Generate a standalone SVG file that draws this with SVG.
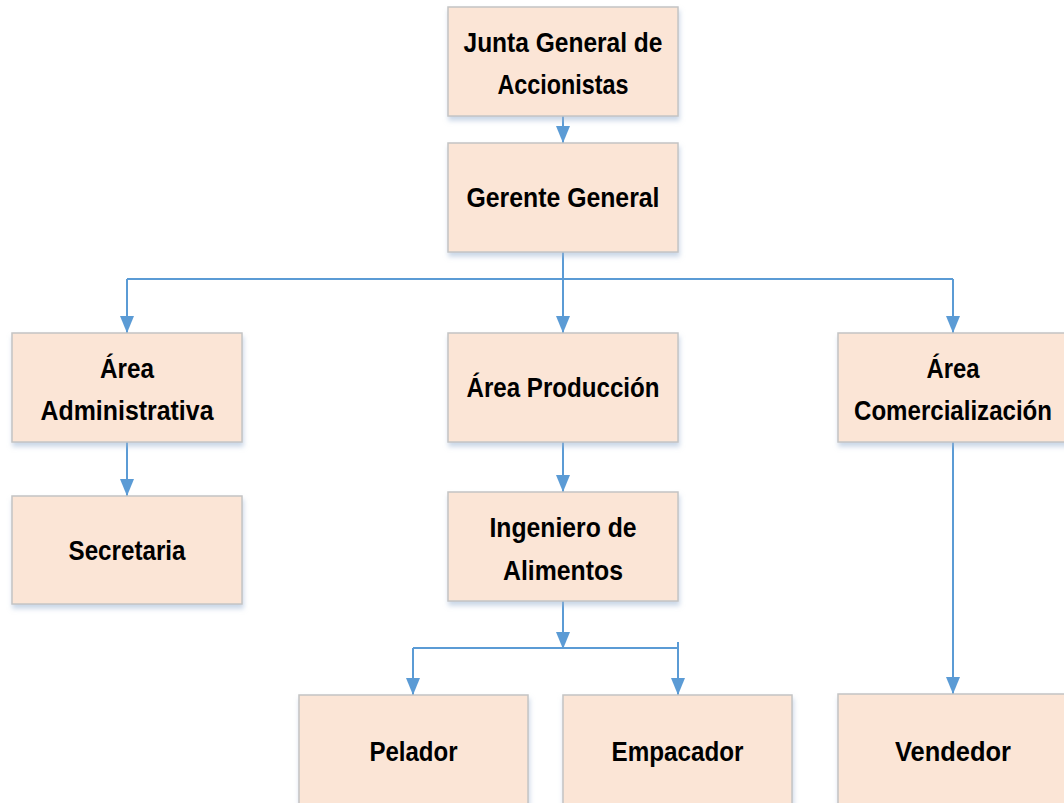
<svg xmlns="http://www.w3.org/2000/svg" width="1064" height="803" viewBox="0 0 1064 803">
<style>
.box{fill:#FBE5D6;stroke:#C4C4C4;stroke-width:1.5;filter:url(#sh)}
.t{font-family:"Liberation Sans",Arial,sans-serif;font-weight:bold;font-size:27px;fill:#000;text-anchor:middle}
.c{fill:none;stroke:#5B9BD5;stroke-width:2}
.a{marker-end:url(#arr)}
</style>
<defs>
<filter id="sh" x="-10%" y="-10%" width="130%" height="140%">
<feDropShadow dx="1" dy="4" stdDeviation="2.5" flood-color="#9FB6D3" flood-opacity="0.55"/>
</filter>
<marker id="arr" viewBox="0 0 17 14" refX="17" refY="7" markerWidth="17" markerHeight="14" markerUnits="userSpaceOnUse" orient="auto">
<path d="M0,0 L17,7 L0,14 z" fill="#5B9BD5"/>
</marker>
</defs>
<rect width="1064" height="803" fill="#fff"/>
<g id="connectors">
<path class="c a" d="M563,116 V143"/>
<path class="c" d="M563,252 V279 M127,279 H953"/>
<path class="c a" d="M127,279 V333"/>
<path class="c a" d="M563,279 V333"/>
<path class="c a" d="M953,279 V333"/>
<path class="c a" d="M127,442 V496"/>
<path class="c a" d="M563,442 V492"/>
<path class="c a" d="M563,601 V649"/>
<path class="c" d="M413,648 H678 M678,642 V648"/>
<path class="c a" d="M413,648 V695"/>
<path class="c a" d="M678,648 V695"/>
<path class="c a" d="M953,442 V694"/>
</g>
<g id="junta"><rect class="box" x="448" y="7" width="230" height="109"/><text class="t" x="563" y="52" textLength="199" lengthAdjust="spacingAndGlyphs">Junta General de</text><text class="t" x="563" y="94" textLength="131" lengthAdjust="spacingAndGlyphs">Accionistas</text></g>
<g id="gerente"><rect class="box" x="448" y="143" width="230" height="109"/><text class="t" x="563" y="207" textLength="193" lengthAdjust="spacingAndGlyphs">Gerente General</text></g>
<g id="admin"><rect class="box" x="12" y="333" width="230" height="109"/><text class="t" x="127" y="378" textLength="54" lengthAdjust="spacingAndGlyphs">Área</text><text class="t" x="127" y="420" textLength="173" lengthAdjust="spacingAndGlyphs">Administrativa</text></g>
<g id="produccion"><rect class="box" x="448" y="333" width="230" height="109"/><text class="t" x="563" y="397" textLength="193" lengthAdjust="spacingAndGlyphs">Área Producción</text></g>
<g id="comercial"><rect class="box" x="838" y="333" width="230" height="109"/><text class="t" x="953" y="378" textLength="53" lengthAdjust="spacingAndGlyphs">Área</text><text class="t" x="953" y="420" textLength="198" lengthAdjust="spacingAndGlyphs">Comercialización</text></g>
<g id="secretaria"><rect class="box" x="12" y="496" width="230" height="108"/><text class="t" x="127" y="560" textLength="117" lengthAdjust="spacingAndGlyphs">Secretaria</text></g>
<g id="ingeniero"><rect class="box" x="448" y="492" width="230" height="109"/><text class="t" x="563" y="537" textLength="147" lengthAdjust="spacingAndGlyphs">Ingeniero de</text><text class="t" x="563" y="580" textLength="120" lengthAdjust="spacingAndGlyphs">Alimentos</text></g>
<g id="pelador"><rect class="box" x="299" y="695" width="229" height="112"/><text class="t" x="413.5" y="761" textLength="88" lengthAdjust="spacingAndGlyphs">Pelador</text></g>
<g id="empacador"><rect class="box" x="563" y="695" width="229" height="112"/><text class="t" x="677.5" y="761" textLength="132" lengthAdjust="spacingAndGlyphs">Empacador</text></g>
<g id="vendedor"><rect class="box" x="838" y="694" width="230" height="113"/><text class="t" x="953" y="761" textLength="116" lengthAdjust="spacingAndGlyphs">Vendedor</text></g>
</svg>
